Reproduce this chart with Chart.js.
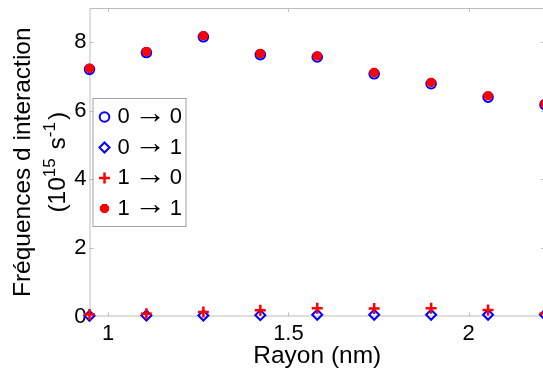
<!DOCTYPE html>
<html>
<head>
<meta charset="utf-8">
<script src="https://cdn.jsdelivr.net/npm/chart.js@4.4.1/dist/chart.umd.min.js"></script>
<style>
    html, body { margin: 0; padding: 0; background: #fff; overflow: hidden; }
    #wrap { width: 543px; height: 372px; overflow: hidden; }
</style>
</head>
<body>
<div id="wrap"><canvas id="chart" width="545" height="372"></canvas></div>
<script>
// values
const rayon = [0.948, 1.106, 1.264, 1.422, 1.580, 1.738, 1.896, 2.054, 2.212];
const f00 = [7.21, 7.70, 8.16, 7.64, 7.57, 7.08, 6.79, 6.40, 6.18];
const f01 = [0.02, 0.03, 0.03, 0.04, 0.05, 0.05, 0.05, 0.05, 0.05];
const f10 = [0.06, 0.08, 0.13, 0.18, 0.24, 0.23, 0.24, 0.19, 0.09];
const f11 = [7.24, 7.73, 8.19, 7.67, 7.60, 7.12, 6.83, 6.44, 6.21];
const seriesFrom = ['0', '0', '1', '1'];
const seriesTo = ['0', '1', '0', '1'];
const seriesLabels = seriesFrom.map((a, i) => a + ' \u2192 ' + seriesTo[i]);
const xTicks = [1, 1.5, 2];
const yTicks = [0, 2, 4, 6, 8];
const xTitle = 'Rayon (nm)';
const yTitle = 'Fréquences d interaction';

const FONT = "'Liberation Sans', Arial, sans-serif";
const BLUE = '#0000ff';
const RED = '#ff0000';
const AXIS = '#bdbdbd';

const toPoints = ys => ys.map((y, i) => ({ x: rayon[i], y: y }));

const styles = [
    { pointStyle: 'circle', radius: 4.8, borderWidth: 2, color: BLUE, fill: 'rgba(0,0,0,0)', order: 4 },
    { pointStyle: 'rectRot', radius: 5, borderWidth: 2, color: BLUE, fill: 'rgba(0,0,0,0)', order: 3 },
    { pointStyle: 'cross', radius: 5.5, borderWidth: 2.5, color: RED, fill: RED, order: 2 },
    { pointStyle: 'star', radius: 4.6, borderWidth: 3.5, color: RED, fill: RED, order: 1 }
];

const datasets = [f00, f01, f10, f11].map((ys, i) => ({
    label: seriesLabels[i],
    data: toPoints(ys),
    showLine: false,
    clip: false,
    order: styles[i].order,
    pointStyle: styles[i].pointStyle,
    pointRadius: styles[i].radius,
    pointHoverRadius: styles[i].radius,
    pointBorderWidth: styles[i].borderWidth,
    pointBorderColor: styles[i].color,
    pointBackgroundColor: styles[i].fill
}));

// axes box with inward ticks, like the original figure
const boxPlugin = {
    id: 'box',
    beforeDatasetsDraw(chart) {
        const { ctx, chartArea: a, scales } = chart;
        ctx.save();
        ctx.strokeStyle = AXIS;
        ctx.lineWidth = 1;
        ctx.strokeRect(a.left + 0.5, a.top + 0.5, a.right - a.left - 1, a.bottom - a.top - 1);
        ctx.beginPath();
        xTicks.forEach(v => {
            const px = Math.round(scales.x.getPixelForValue(v)) + 0.5;
            ctx.moveTo(px, a.bottom); ctx.lineTo(px, a.bottom - 4);
            ctx.moveTo(px, a.top); ctx.lineTo(px, a.top + 4);
        });
        yTicks.forEach(v => {
            const py = Math.round(scales.y.getPixelForValue(v)) + 0.5;
            ctx.moveTo(a.left, py); ctx.lineTo(a.left + 4, py);
            ctx.moveTo(a.right, py); ctx.lineTo(a.right - 4, py);
        });
        ctx.stroke();
        ctx.restore();
    },
    afterDraw(chart) {
        // y title: two lines, the second one with superscripts
        const { ctx, chartArea: a } = chart;
        const yc = (a.top + a.bottom) / 2;
        ctx.save();
        ctx.fillStyle = '#000';
        ctx.textBaseline = 'middle';
        ctx.translate(23.5, yc);
        ctx.rotate(-Math.PI / 2);
        ctx.font = '24.5px ' + FONT;
        ctx.textAlign = 'center';
        ctx.fillText(yTitle, 0, 0);
        const parts = [['(10', false], ['15', true], [' s', false], ['-1', true], [')', false]];
        const fontOf = sup => (sup ? '17px ' : '24.5px ') + FONT;
        let total = 0;
        parts.forEach(([t, sup]) => { ctx.font = fontOf(sup); total += ctx.measureText(t).width + (sup ? 2 : 0); });
        let x = -total / 2;
        ctx.textAlign = 'left';
        parts.forEach(([t, sup]) => {
            ctx.font = fontOf(sup);
            ctx.fillText(t, x, 35 + (sup ? -8 : 0));
            x += ctx.measureText(t).width + (sup ? 2 : 0);
        });
        ctx.restore();
    }
};

// legend box in the upper left of the axes
const legendPlugin = {
    id: 'boxLegend',
    afterDatasetsDraw(chart) {
        const { ctx, chartArea: a } = chart;
        const left = a.left + 3.5, top = a.top + 90.5, w = 93, h = 128;
        ctx.save();
        ctx.fillStyle = '#fff';
        ctx.fillRect(left, top, w, h);
        ctx.strokeStyle = '#a0a0a0';
        ctx.lineWidth = 1;
        ctx.strokeRect(left, top, w, h);
        ctx.textBaseline = 'middle';
        seriesLabels.forEach((label, i) => {
            const y = top + 18.5 + i * 30.5;
            const s = styles[i];
            ctx.strokeStyle = s.color;
            ctx.fillStyle = s.fill;
            ctx.lineWidth = s.borderWidth;
            Chart.helpers.drawPoint(ctx, { pointStyle: s.pointStyle, radius: s.radius, rotation: 0, borderWidth: s.borderWidth }, left + 11.5, y);
            ctx.fillStyle = '#000';
            ctx.font = '22px ' + FONT;
            ctx.textAlign = 'left';
            ctx.fillText(seriesFrom[i], left + 24.5, y);
            ctx.textAlign = 'right';
            ctx.fillText(seriesTo[i], left + 89, y);
            ctx.textAlign = 'center';
            ctx.font = '32px ' + FONT;
            ctx.fillText('\u2192', left + 57, y - 3);
        });
        ctx.restore();
    }
};

new Chart(document.getElementById('chart'), {
    type: 'scatter',
    data: { datasets: datasets },
    options: {
        responsive: false,
        animation: false,
        events: [],
        layout: { autoPadding: false, padding: { top: 8, right: 0, bottom: 0, left: 0 } },
        plugins: { legend: { display: false }, tooltip: { enabled: false } },
        scales: {
            x: {
                type: 'linear',
                min: rayon[0],
                max: rayon[rayon.length - 1],
                grid: { display: false, drawTicks: false },
                border: { display: false },
                afterBuildTicks: s => { s.ticks = xTicks.map(v => ({ value: v })); },
                afterFit: s => { s.height = 55.5; },
                ticks: {
                    color: '#000',
                    padding: 4.5,
                    maxRotation: 0,
                    font: { family: FONT, size: 22 },
                    callback: v => String(v)
                },
                title: {
                    display: true,
                    text: xTitle,
                    color: '#000',
                    font: { family: FONT, size: 24.5 },
                    padding: { top: 0, bottom: 1 }
                }
            },
            y: {
                type: 'linear',
                min: 0,
                max: 9,
                grid: { display: false, drawTicks: false },
                border: { display: false },
                afterBuildTicks: s => { s.ticks = yTicks.map(v => ({ value: v })); },
                afterFit: s => { s.width = 89.5; },
                ticks: {
                    color: '#000',
                    padding: 3,
                    font: { family: FONT, size: 22, lineHeight: '10px' },
                    callback: v => String(v)
                }
            }
        }
    },
    plugins: [boxPlugin, legendPlugin]
});
</script>
</body>
</html>
